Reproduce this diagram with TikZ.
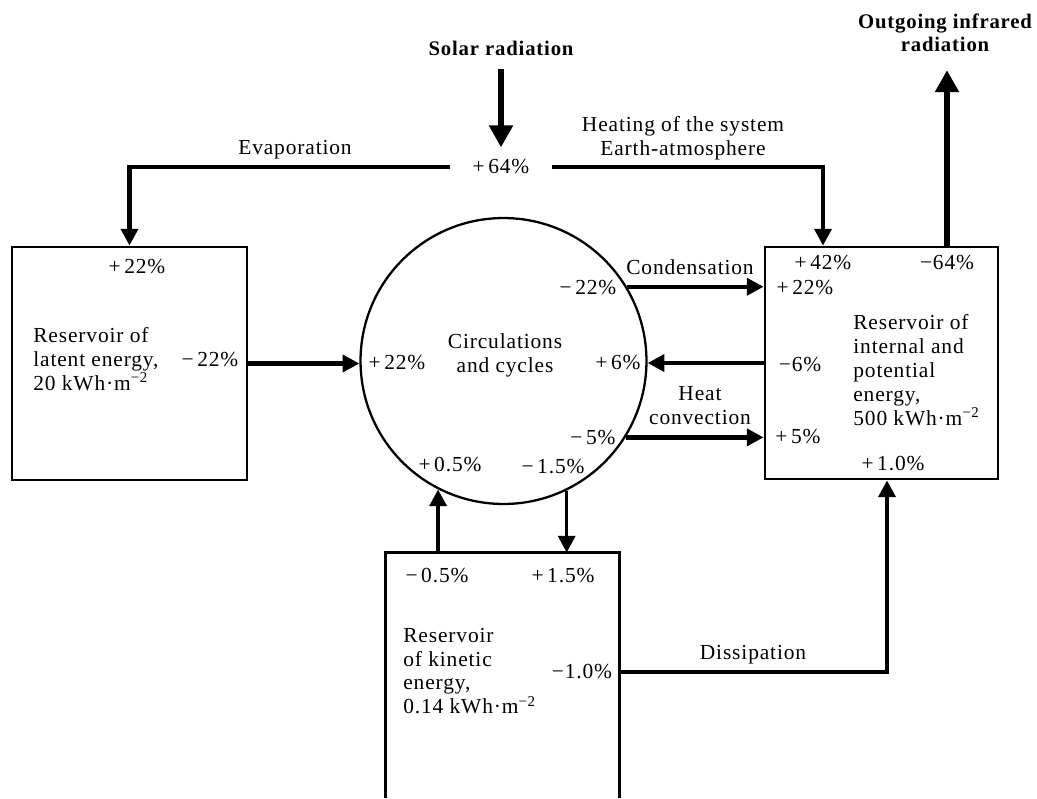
\documentclass[tikz,border=0pt]{standalone}
\usepackage{fontspec}
\setmainfont{Liberation Serif}[LetterSpace=4]
\usetikzlibrary{arrows.meta}

\begin{document}
\begin{tikzpicture}[x=0.02cm, y=0.02cm,
    every node/.style={inner sep=0pt, font=\fontsize{12.2}{13.6}\selectfont},
    title/.style={align=center, font=\fontsize{11.8}{13}\selectfont\bfseries},
    box/.style={draw, line width=1.6pt},
    flow/.style={line width=2.5pt, -{Triangle[length=9.5pt,width=9.5pt]}},
    bigflow/.style={line width=3.5pt, -{Triangle[length=12.5pt,width=13pt]}}]
  \useasboundingbox (0,0) rectangle (1037,-798);
  % 绘制储库与环流
  \node[box, minimum width=4.7cm, minimum height=4.66cm] (latent) at (129.5,-363.5) {};
  \node[box, minimum width=4.66cm, minimum height=4.64cm] (internal) at (881.5,-363) {};
  \node[minimum width=4.66cm, minimum height=4.9cm] (kinetic) at (502.5,-675.5) {};
  \draw[line width=1.6pt] (kinetic.south west) |- (kinetic.north east) -- (kinetic.south east);
  \node[circle, draw, line width=1.3pt, minimum size=5.72cm] (circ) at (503.5,-361) {};
  % 储库文字
  \node[align=left, anchor=west] (latenttext) at (33,-359) {Reservoir of\\latent energy,\\20 kWh·m\textsuperscript{−2}};
  \node[align=center] (circtext) at (505,-355) {Circulations\\and cycles};
  \node[align=left, anchor=west] (inttext) at (853,-370) {Reservoir of\\internal and\\potential\\energy,\\500 kWh·m\textsuperscript{−2}};
  \node[align=left, anchor=west] (kintext) at (403,-671) {Reservoir\\of kinetic\\energy,\\0.14 kWh·m\textsuperscript{−2}};
  % 标题
  \node[title] (solar) at (501,-48) {Solar radiation};
  \node[title] (outgoing) at (945,-33) {Outgoing infrared\\radiation};
  % 百分比
  \node (p64) at (501,-167) {+\,64\%};
  \node (lat22) at (137,-267) {+\,22\%};
  \node (latm22) at (210,-360) {−\,22\%};
  \node (cp22) at (397,-363) {+\,22\%};
  \node (cm22) at (588,-288) {−\,22\%};
  \node (cp6) at (618,-363) {+\,6\%};
  \node (cm5) at (593,-438) {−\,5\%};
  \node (cp05) at (450,-465) {+\,0.5\%};
  \node (cm15) at (553,-467) {−\,1.5\%};
  \node (in42) at (823,-263) {+\,42\%};
  \node (out64) at (947,-263) {−64\%};
  \node (in22) at (805,-288) {+\,22\%};
  \node (im6) at (800,-365) {−6\%};
  \node (ip5) at (798,-437) {+\,5\%};
  \node (in10) at (893,-464) {+\,1.0\%};
  \node (km05) at (437,-576) {−\,0.5\%};
  \node (kp15) at (563,-576) {+\,1.5\%};
  \node (km10) at (582,-672) {−1.0\%};
  % 流程标签
  \node (evap) at (295,-150) {Evaporation};
  \node[align=center] (heating) at (683,-138) {Heating of the system\\Earth-atmosphere};
  \node (cond) at (690,-267) {Condensation};
  \node[align=center] (heatconv) at (700,-406) {Heat\\convection};
  \node (diss) at (753,-655) {Dissipation};
  % 箭头
  \draw[bigflow, shorten <=0.26cm, shorten >=0.24cm] (solar) -- (p64);
  \draw[bigflow, line width=3.2pt, shorten >=0.36cm] (out64 |- internal.north) -- (out64 |- outgoing.south);
  \draw[flow, line width=2.8pt, shorten <=0.44cm] (p64.west) -| (latent.north);
  \draw[flow, line width=2.8pt, shorten <=0.44cm] (p64.east) -| (in42 |- internal.north);
  \draw[flow] (latent.east) -- (latent.east -| circ.west);
  \draw[flow] (circ.31) -- (circ.31 -| internal.west);
  \draw[flow] (internal.west) -- (internal.west -| circ.east);
  \draw[flow] (circ.-32) -- (circ.-32 -| internal.west);
  \draw[flow] (circ.-117 |- kinetic.north) -- (circ.-117);
  \draw[flow, line width=2pt] (circ.-64) -- (circ.-64 |- kinetic.north);
  \draw[flow] (kinetic.east |- km10) -| ([xshift=0.11cm]internal.south);
\end{tikzpicture}
\end{document}
